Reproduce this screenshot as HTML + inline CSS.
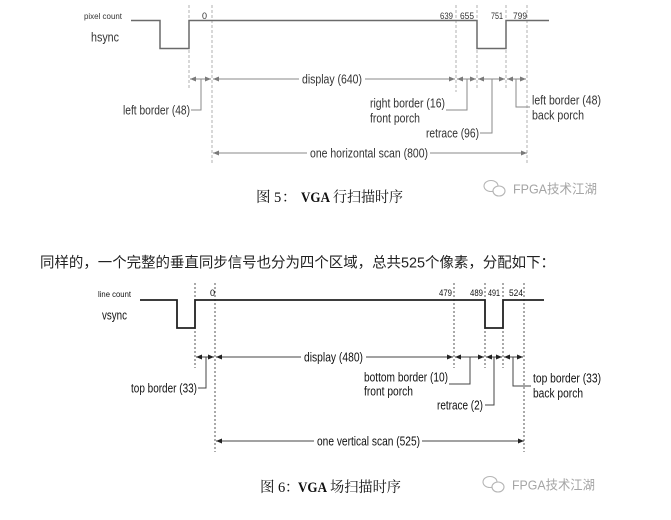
<!DOCTYPE html>
<html><head><meta charset="utf-8">
<style>
html,body{margin:0;padding:0;background:#fff;}
svg{display:block;}
.t{font-family:"Liberation Sans",Arial,sans-serif;}
.tt{fill:#333;}
.bt{fill:#111;}
</style></head>
<body>
<svg width="671" height="520" viewBox="0 0 671 520" xmlns="http://www.w3.org/2000/svg">
<rect width="671" height="520" fill="#fff"/>

<!-- ============ TOP DIAGRAM ============ -->
<g stroke="#b0b0b0" stroke-width="1" stroke-dasharray="3 2" fill="none">
  <line x1="189" y1="5" x2="189" y2="90"/>
  <line x1="212" y1="5" x2="212" y2="165"/>
  <line x1="456" y1="5" x2="456" y2="92"/>
  <line x1="477" y1="5" x2="477" y2="90"/>
  <line x1="506" y1="5" x2="506" y2="90"/>
  <line x1="527" y1="5" x2="527" y2="165"/>
</g>
<polyline points="131,20.5 160,20.5 160,48.5 189,48.5 189,20.5 477,20.5 477,48.5 506,48.5 506,20.5 549,20.5" fill="none" stroke="#6a6a6a" stroke-width="1.5"/>

<g class="t tt">
  <text x="84" y="19" font-size="8.5" textLength="38" lengthAdjust="spacingAndGlyphs">pixel count</text>
  <text x="91" y="41.5" font-size="13" textLength="28" lengthAdjust="spacingAndGlyphs">hsync</text>
  <text x="202" y="19" font-size="9">0</text>
  <text x="440" y="19" font-size="9" textLength="13" lengthAdjust="spacingAndGlyphs">639</text>
  <text x="460" y="19" font-size="9" textLength="14" lengthAdjust="spacingAndGlyphs">655</text>
  <text x="491" y="19" font-size="9" textLength="12" lengthAdjust="spacingAndGlyphs">751</text>
  <text x="513" y="19" font-size="9" textLength="14" lengthAdjust="spacingAndGlyphs">799</text>
  <text x="302" y="83.5" font-size="13" textLength="60" lengthAdjust="spacingAndGlyphs">display (640)</text>
  <text x="123" y="114.5" font-size="13" textLength="67" lengthAdjust="spacingAndGlyphs">left border (48)</text>
  <text x="370" y="107.5" font-size="13" textLength="75" lengthAdjust="spacingAndGlyphs">right border (16)</text>
  <text x="370" y="122.5" font-size="13" textLength="50" lengthAdjust="spacingAndGlyphs">front porch</text>
  <text x="426" y="137.5" font-size="13" textLength="53" lengthAdjust="spacingAndGlyphs">retrace (96)</text>
  <text x="532" y="104.5" font-size="13" textLength="69" lengthAdjust="spacingAndGlyphs">left border (48)</text>
  <text x="532" y="119.5" font-size="13" textLength="52" lengthAdjust="spacingAndGlyphs">back porch</text>
  <text x="310" y="157.5" font-size="13" textLength="118" lengthAdjust="spacingAndGlyphs">one horizontal scan (800)</text>
</g>

<g stroke="#8a8a8a" stroke-width="1" fill="none">
  <line x1="190" y1="79" x2="211" y2="79"/>
  <line x1="213" y1="79" x2="299" y2="79"/>
  <line x1="365" y1="79" x2="455" y2="79"/>
  <line x1="457" y1="79" x2="476" y2="79"/>
  <line x1="478" y1="79" x2="505" y2="79"/>
  <line x1="507" y1="79" x2="526" y2="79"/>
  <line x1="213" y1="153" x2="307" y2="153"/>
  <line x1="430" y1="153" x2="527" y2="153"/>
  <polyline points="191,110 201,110 201,79"/>
  <polyline points="446,110 467,110 467,79"/>
  <polyline points="480,133 492,133 492,79"/>
  <polyline points="516,79 516,107 530,107"/>
</g>
<g fill="#7a7a7a">
  <polygon points="190,79 196,76.5 196,81.5"/>
  <polygon points="211,79 205,76.5 205,81.5"/>
  <polygon points="213,79 219,76.5 219,81.5"/>
  <polygon points="455,79 449,76.5 449,81.5"/>
  <polygon points="457,79 463,76.5 463,81.5"/>
  <polygon points="476,79 470,76.5 470,81.5"/>
  <polygon points="478,79 484,76.5 484,81.5"/>
  <polygon points="505,79 499,76.5 499,81.5"/>
  <polygon points="507,79 513,76.5 513,81.5"/>
  <polygon points="526,79 520,76.5 520,81.5"/>
  <polygon points="213,153 219,150.5 219,155.5"/>
  <polygon points="527,153 521,150.5 521,155.5"/>
</g>

<!-- caption 1 -->
<g font-family="'Liberation Serif','Noto Serif CJK SC',serif" font-size="14.5" fill="#111">
  <text x="256" y="202">图</text>
  <text x="274" y="202">5</text>
  <text x="282" y="202">：</text>
  <text x="301" y="202" font-weight="bold" textLength="29" lengthAdjust="spacingAndGlyphs">VGA</text>
  <text x="333" y="202" textLength="70" lengthAdjust="spacingAndGlyphs">行扫描时序</text>
</g>
<!-- watermark 1 -->
<g fill="none" stroke="#b5b5b5" stroke-width="1.1">
  <ellipse cx="491" cy="186" rx="7" ry="5.5"/>
  <ellipse cx="499" cy="191" rx="6" ry="5" fill="#fff"/>
</g>
<text x="513" y="193.5" font-family="'Liberation Sans','Noto Sans CJK SC',sans-serif" font-size="13" fill="#a5a5a5" textLength="84" lengthAdjust="spacingAndGlyphs">FPGA技术江湖</text>

<!-- paragraph -->
<text x="40" y="267.5" font-family="'Liberation Sans','Noto Sans CJK SC',sans-serif" font-size="14.5" fill="#222" textLength="515" lengthAdjust="spacingAndGlyphs">同样的，一个完整的垂直同步信号也分为四个区域，总共525个像素，分配如下：</text>

<!-- ============ BOTTOM DIAGRAM ============ -->
<g stroke="#555" stroke-width="1" stroke-dasharray="2 2" fill="none">
  <line x1="195" y1="283" x2="195" y2="368"/>
  <line x1="215" y1="283" x2="215" y2="452"/>
  <line x1="454" y1="283" x2="454" y2="368"/>
  <line x1="485" y1="283" x2="485" y2="368"/>
  <line x1="503" y1="283" x2="503" y2="368"/>
  <line x1="524" y1="283" x2="524" y2="452"/>
</g>
<polyline points="140,300 177,300 177,328 195,328 195,300 485,300 485,328 503,328 503,300 544,300" fill="none" stroke="#222" stroke-width="1.8"/>

<g class="t bt">
  <text x="98" y="297" font-size="8.5" textLength="33" lengthAdjust="spacingAndGlyphs">line count</text>
  <text x="102" y="319.5" font-size="13" textLength="25" lengthAdjust="spacingAndGlyphs">vsync</text>
  <text x="210" y="296" font-size="9">0</text>
  <text x="439" y="296" font-size="9" textLength="13" lengthAdjust="spacingAndGlyphs">479</text>
  <text x="470" y="296" font-size="9" textLength="13" lengthAdjust="spacingAndGlyphs">489</text>
  <text x="488" y="296" font-size="9" textLength="12" lengthAdjust="spacingAndGlyphs">491</text>
  <text x="509" y="296" font-size="9" textLength="14" lengthAdjust="spacingAndGlyphs">524</text>
  <text x="304" y="361.5" font-size="13" textLength="59" lengthAdjust="spacingAndGlyphs">display (480)</text>
  <text x="131" y="392.5" font-size="13" textLength="66" lengthAdjust="spacingAndGlyphs">top border (33)</text>
  <text x="364" y="381.5" font-size="13" textLength="84" lengthAdjust="spacingAndGlyphs">bottom border (10)</text>
  <text x="364" y="395.5" font-size="13" textLength="49" lengthAdjust="spacingAndGlyphs">front porch</text>
  <text x="437" y="409.5" font-size="13" textLength="46" lengthAdjust="spacingAndGlyphs">retrace (2)</text>
  <text x="533" y="382.5" font-size="13" textLength="68" lengthAdjust="spacingAndGlyphs">top border (33)</text>
  <text x="533" y="397.5" font-size="13" textLength="50" lengthAdjust="spacingAndGlyphs">back porch</text>
  <text x="317" y="445.5" font-size="13" textLength="103" lengthAdjust="spacingAndGlyphs">one vertical scan (525)</text>
</g>

<g stroke="#444" stroke-width="1" fill="none">
  <line x1="196" y1="357" x2="214" y2="357"/>
  <line x1="216" y1="357" x2="301" y2="357"/>
  <line x1="366" y1="357" x2="453" y2="357"/>
  <line x1="455" y1="357" x2="484" y2="357"/>
  <line x1="486" y1="357" x2="502" y2="357"/>
  <line x1="504" y1="357" x2="523" y2="357"/>
  <line x1="216" y1="441" x2="314" y2="441"/>
  <line x1="422" y1="441" x2="524" y2="441"/>
  <polyline points="198,388 206,388 206,357"/>
  <polyline points="449,384 470,384 470,357"/>
  <polyline points="485,405 494,405 494,357"/>
  <polyline points="513,357 513,386 531,386"/>
</g>
<g fill="#222">
  <polygon points="196,357 202,354.5 202,359.5"/>
  <polygon points="214,357 208,354.5 208,359.5"/>
  <polygon points="216,357 222,354.5 222,359.5"/>
  <polygon points="453,357 447,354.5 447,359.5"/>
  <polygon points="455,357 461,354.5 461,359.5"/>
  <polygon points="484,357 478,354.5 478,359.5"/>
  <polygon points="486,357 492,354.5 492,359.5"/>
  <polygon points="502,357 496,354.5 496,359.5"/>
  <polygon points="504,357 510,354.5 510,359.5"/>
  <polygon points="523,357 517,354.5 517,359.5"/>
  <polygon points="216,441 222,438.5 222,443.5"/>
  <polygon points="524,441 518,438.5 518,443.5"/>
</g>

<!-- caption 2 -->
<g font-family="'Liberation Serif','Noto Serif CJK SC',serif" font-size="14.5" fill="#111">
  <text x="260" y="492">图</text>
  <text x="278" y="492">6</text>
  <text x="285" y="492">：</text>
  <text x="298" y="492" font-weight="bold" textLength="29" lengthAdjust="spacingAndGlyphs">VGA</text>
  <text x="330" y="492" textLength="71" lengthAdjust="spacingAndGlyphs">场扫描时序</text>
</g>
<!-- watermark 2 -->
<g fill="none" stroke="#b5b5b5" stroke-width="1.1">
  <ellipse cx="490" cy="482" rx="7" ry="5.5"/>
  <ellipse cx="498" cy="487" rx="6" ry="5" fill="#fff"/>
</g>
<text x="512" y="489.5" font-family="'Liberation Sans','Noto Sans CJK SC',sans-serif" font-size="13" fill="#a5a5a5" textLength="83" lengthAdjust="spacingAndGlyphs">FPGA技术江湖</text>
</svg>
</body></html>
